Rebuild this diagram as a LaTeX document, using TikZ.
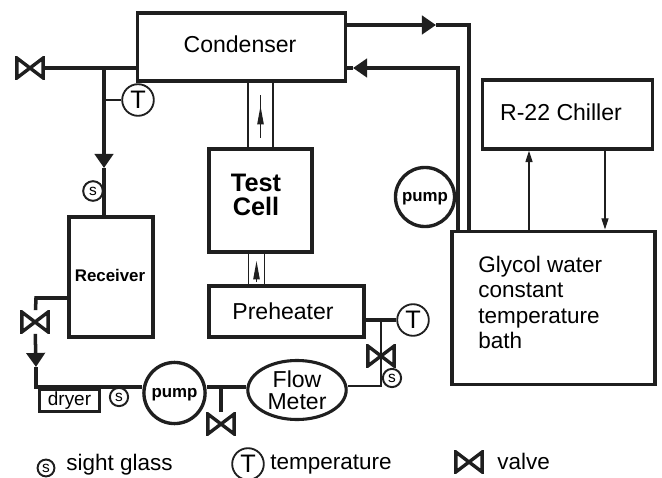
\documentclass[tikz,border=0pt]{standalone}
\usepackage{fontspec}
\setmainfont{Liberation Sans}
\usepackage{xcolor}
\usepackage{tikz}
\usetikzlibrary{arrows.meta,positioning,shapes.geometric,backgrounds}
\colorlet{rigink}{black!88}
\tikzset{
  rigbox/.style={draw=rigink,line width=2.6pt,fill=white,inner sep=0pt,align=center,
                 font=\fontsize{16.4}{19}\selectfont},
  rigtext/.style={inner sep=0pt,align=center,font=\fontsize{16.4}{19}\selectfont},
  rigpipe/.style={draw=rigink,line width=1.2pt,fill=white,inner sep=0pt},
  rigpump/.style={circle,draw=rigink,line width=2.4pt,fill=white,inner sep=0pt,text depth=0pt,
                  minimum size=43.5pt,font=\fontsize{12}{14}\bfseries\selectfont},
  rigtemp/.style={circle,draw=rigink,line width=1.3pt,fill=white,inner sep=0pt,
                  minimum size=22.5pt,font=\fontsize{18}{18}\selectfont},
  rigsight/.style={circle,draw=rigink,line width=1.4pt,fill=white,inner sep=0pt,
                   minimum size=13pt,font=\fontsize{11}{11}\selectfont},
  rigvalve/.style={inner sep=0pt,minimum width=21pt,minimum height=16.5pt,
    path picture={
      \draw[rigink,line width=2.4pt,fill=white,line join=miter]
        ([shift={(1.2pt,1.2pt)}]path picture bounding box.south west) --
        ([shift={(-1.2pt,-1.2pt)}]path picture bounding box.north east) --
        ([shift={(-1.2pt,1.2pt)}]path picture bounding box.south east) --
        ([shift={(1.2pt,-1.2pt)}]path picture bounding box.north west) -- cycle;
    }},
  rigline/.style={draw=rigink,line width=2.5pt},
  rigthin/.style={draw=rigink,line width=0.8pt},
  rigflow/.style={rigline,-{Triangle[length=10pt,width=13pt]}},
  rigsmall/.style={rigthin,-{Triangle[length=8pt,width=5pt]}},
  rigfat/.style={rigthin,-{Triangle[length=13pt,width=4.5pt]}},
  riglegend/.style={font=\fontsize{16}{19}\selectfont,anchor=west,inner sep=0pt}
}
\begin{document}
\begin{tikzpicture}[x=0.25mm,y=-0.25mm]
  \useasboundingbox (0,0) rectangle (662,478);

  % boxes
  \node[rigpipe,minimum width=17.7pt,minimum height=48pt] (riser) at (260.5,114.5) {};
  \node[rigpipe,minimum width=11.3pt,minimum height=25pt] (feed) at (256.5,269) {};
  \node[rigbox,minimum width=148pt,minimum height=48pt] (condenser) at (241.5,47) {};
  \node[rigtext] (condtext) at (240,44) {Condenser};
  \node[rigbox,minimum width=73pt,minimum height=73pt] (testcell) at (260.5,200.5) {};
  \node[rigtext,font=\fontsize{18}{17.5}\bfseries\selectfont] (celltext) at (256,195) {Test\\Cell};
  \node[rigbox,minimum width=110pt,minimum height=36pt] (preheater) at (286.5,311.5) {};
  \node[rigtext] (heattext) at (283,311) {Preheater};
  \node[rigbox,minimum width=59.5pt,minimum height=85pt] (receiver) at (111,277) {};
  \node[rigtext,font=\fontsize{12}{14}\bfseries\selectfont] (rectext) at (110,275) {Receiver};
  \node[rigbox,minimum width=43pt,minimum height=16pt,line width=2pt,
        font=\fontsize{13.5}{15}\selectfont] (dryer) at (69.5,400.5) {dryer};
  \node[rigbox,minimum width=121pt,minimum height=49pt] (chiller) at (567.5,114.5) {};
  \node[rigtext] (chilltext) at (561,112) {R-22 Chiller};
  \node[rigbox,minimum width=144pt,minimum height=109pt] (bath) at (553.5,308) {};
  \node[font=\fontsize{16}{18}\selectfont,align=left,anchor=north west,inner sep=0pt]
    (bathtext) at (478,256) {Glycol water\\constant\\temperature\\bath};

  % devices
  \node[rigpump] (pumpa) at (174.5,393) {pump};
  \node[rigpump,minimum size=42pt] (pumpb) at (425,197) {pump};
  \node[ellipse,draw=rigink,line width=2.2pt,fill=white,inner sep=0pt,minimum width=70pt,
        minimum height=42pt,align=center,font=\fontsize{16.4}{15.6}\selectfont] (flow) at (297,390)
    {Flow\\Meter};
  \node[rigtemp] (tempa) at (138,100) {T};
  \node[rigtemp] (tempb) at (413,320) {T};
  \node[rigsight,minimum size=14pt] (sighta) at (93,191) {s};
  \node[rigsight] (sightb) at (119,397) {s};
  \node[rigsight] (sightc) at (392,378) {s};
  \node[rigvalve] (valvea) at (30,68) {};
  \node[rigvalve] (valveb) at (35,322) {};
  \node[rigvalve] (valvec) at (221,424) {};
  \node[rigvalve] (valved) at (381,356) {};

  % joints
  \coordinate (jointa) at (104,68);
  \coordinate (jointb) at (36,298);
  \coordinate (jointc) at (36,387);
  \coordinate (jointd) at (221,387);
  \coordinate (jointe) at (381,386);
  \coordinate (jointf) at (381,320);
  \coordinate (jointg) at (469,25);
  \coordinate (jointh) at (458,68);
  \coordinate (flowa) at (104,168);
  \coordinate (flowb) at (36,367);
  \coordinate (flowc) at (436,25);
  \coordinate (flowd) at (353,68);

  % pipes
  \begin{scope}[on background layer]
    \draw[rigline] (valvea) -- (condenser.west |- valvea);
    \draw[rigflow] (jointa) -- (flowa);
    \draw[rigline] (flowa) -- (receiver.north -| flowa);
    \draw[rigline,line width=1.5pt] (tempa) -- (tempa -| jointa);
    \draw[rigline] (receiver.west |- jointb) -- (jointb) -- (valveb);
    \draw[rigflow] (valveb) -- (flowb);
    \draw[rigline] (flowb) -- (jointc) -- (pumpa.west |- jointc);
    \draw[rigline] (pumpa.east |- jointd) -- (flow.west |- jointd);
    \draw[rigline] (jointd) -- (valvec);
    \draw[rigline,line width=2pt] (flow.east |- jointe) -- (jointe) -- (jointf);
    \draw[rigline] (preheater.east |- jointf) -- (tempb);
    \draw[rigflow] (condenser.east |- flowc) -- (flowc);
    \draw[rigline] (flowc) -- (jointg) -- (bath.north -| jointg);
    \draw[rigflow] (bath.north -| jointh) -- (jointh) -- (flowd);
    \draw[rigline] (flowd) -- (condenser.east |- flowd);
  \end{scope}

  % small arrows
  \draw[rigsmall] (bath.north -| 529,0) -- (chiller.south -| 529,0);
  \draw[rigsmall] (chiller.south -| 605,0) -- (bath.north -| 605,0);
  \draw[rigthin] (riser.center |- 0,138) -- (riser.center |- 0,95);
  \draw[rigfat] (riser.center |- 0,125) -- (riser.center |- 0,106);
  \draw[rigfat] (feed.center |- 0,282) -- (feed.center |- 0,261);

  % legend
  \node[rigsight,minimum size=12pt] (keysight) at (46,468) {s};
  \node[riglegend] (keysighttext) at (66,465) {sight glass};
  \node[rigtemp] (keytemp) at (248,464) {T};
  \node[riglegend] (keytemptext) at (270,465) {temperature};
  \node[rigvalve] (keyvalve) at (469,462) {};
  \node[riglegend] (keyvalvetext) at (497,461) {valve};
\end{tikzpicture}
\end{document}
